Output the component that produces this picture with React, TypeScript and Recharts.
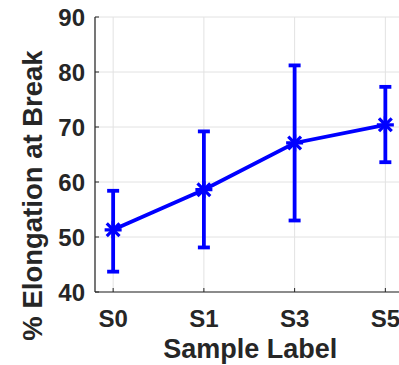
import React from "react";
import { LineChart, Line, XAxis, YAxis, CartesianGrid, ErrorBar } from "recharts";

const categories = ["S0", "S1", "S3", "S5"];
const means = [51.3, 58.6, 67.1, 70.4];
const upper = [58.4, 69.2, 81.2, 77.3];
const lower = [43.7, 48.1, 53.0, 63.6];
const yTicks = [40, 50, 60, 70, 80, 90];

const data = categories.map((c, i) => ({
  x: i,
  name: c,
  mean: means[i],
  err: [means[i] - lower[i], upper[i] - means[i]],
}));

const FONT = "'Liberation Sans', Arial, Helvetica, sans-serif";
const INK = "#262626";
const BLUE = "#0000ff";

const YTick = (props: any) => {
  const { x, y, payload } = props;
  return (
    <g>
      <line x1={x} x2={x + 4} y1={y} y2={y} stroke={INK} strokeWidth={1} />
      <text x={x - 10} y={y} dy="0.38em" textAnchor="end" fontFamily={FONT} fontWeight="bold" fontSize={24} fill={INK}>
        {payload.value}
      </text>
    </g>
  );
};

const XTick = (props: any) => {
  const { x, y, payload } = props;
  return (
    <g>
      <line x1={x} x2={x} y1={y} y2={y - 4} stroke={INK} strokeWidth={1} />
      <text x={x} y={y + 34.5} textAnchor="middle" fontFamily={FONT} fontWeight="bold" fontSize={24} fill={INK}>
        {categories[payload.value]}
      </text>
    </g>
  );
};

const TopTick = (props: any) => {
  const { x, y } = props;
  return <line x1={x} x2={x} y1={y} y2={y + 4} stroke={INK} strokeWidth={1} />;
};

const Star = (props: any) => {
  const { cx, cy } = props;
  if (cx == null || cy == null) return null;
  const r = 8.5;
  const d = r * 0.75;
  return (
    <g stroke={BLUE} strokeWidth={3.2} strokeLinecap="butt">
      <line x1={cx - r} x2={cx + r} y1={cy} y2={cy} />
      <line x1={cx} x2={cx} y1={cy - r} y2={cy + r} />
      <line x1={cx - d} x2={cx + d} y1={cy - d} y2={cy + d} />
      <line x1={cx - d} x2={cx + d} y1={cy + d} y2={cy - d} />
    </g>
  );
};

const YLabel = (props: any) => {
  const vb = props.viewBox || {};
  const cx = (vb.x || 0) + 32;
  const cy = (vb.y || 0) + vb.height / 2 + 41;
  return (
    <text
      x={cx}
      y={cy}
      transform={`rotate(-90 ${cx} ${cy})`}
      dy="0.36em"
      textAnchor="middle"
      fontFamily={FONT}
      fontWeight="bold"
      fontSize={27.5}
      fill={INK}
    >
      % Elongation at Break
    </text>
  );
};

const XLabel = (props: any) => {
  const vb = props.viewBox || {};
  const cx = (vb.x || 0) + vb.width / 2 + 1;
  return (
    <text x={cx} y={358} textAnchor="middle" fontFamily={FONT} fontWeight="bold" fontSize={27} fill={INK}>
      Sample Label
    </text>
  );
};

export default function App() {
  return (
    <div style={{ position: "absolute", left: 0, top: 0, width: 399, height: 365, overflow: "hidden", background: "#fff" }}>
      <LineChart width={404} height={365} data={data} margin={{ top: 17, right: 0.5, bottom: 0, left: 0 }}>
        <CartesianGrid stroke="#e2e2e2" strokeWidth={1} />
        <XAxis
          dataKey="x"
          type="number"
          domain={[-0.2, 3.2]}
          ticks={[0, 1, 2, 3]}
          allowDataOverflow
          height={73}
          tickSize={0}
          tickMargin={0}
          tick={<XTick />}
          axisLine={{ stroke: INK, strokeWidth: 1.2 }}
          tickLine={false}
          interval={0}
          label={<XLabel />}
        />
        <XAxis
          xAxisId="top"
          dataKey="x"
          type="number"
          orientation="top"
          domain={[-0.2, 3.2]}
          ticks={[0, 1, 2, 3]}
          allowDataOverflow
          height={0}
          tickSize={0}
          tickMargin={0}
          tick={<TopTick />}
          axisLine={{ stroke: INK, strokeWidth: 1.2 }}
          tickLine={false}
          interval={0}
        />
        <YAxis
          type="number"
          domain={[40, 90]}
          ticks={yTicks}
          allowDataOverflow
          width={95}
          tickSize={0}
          tickMargin={0}
          tick={<YTick />}
          axisLine={{ stroke: INK, strokeWidth: 1.2 }}
          tickLine={false}
          interval={0}
          label={<YLabel />}
        />
        <Line
          dataKey="mean"
          stroke={BLUE}
          strokeWidth={3.8}
          dot={<Star />}
          activeDot={false}
          isAnimationActive={false}
        >
          <ErrorBar dataKey="err" width={6} stroke={BLUE} strokeWidth={3.8} direction="y" isAnimationActive={false} />
        </Line>
      </LineChart>
    </div>
  );
}
